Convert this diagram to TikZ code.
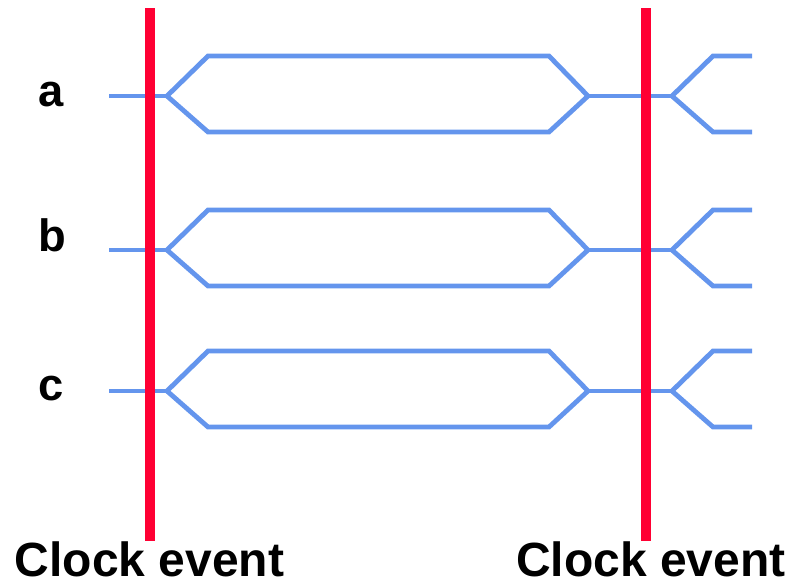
\documentclass[tikz,border=0pt]{standalone}
\usepackage{fontspec}
\setmainfont{Liberation Sans}
\usetikzlibrary{positioning}
\definecolor{clk}{RGB}{255,0,51}
\definecolor{bus}{RGB}{100,149,237}

\begin{document}
\begin{tikzpicture}[
  x=0.75pt, y=-0.75pt,
  sig/.style={draw=bus, line width=3.6pt, line join=miter},
  clkline/.style={draw=clk, line width=7.5pt},
  lbl/.style={font=\fontsize{34}{40}\selectfont\bfseries, inner sep=0pt, anchor=base},
  evt/.style={font=\fontsize{36}{42}\selectfont\bfseries, inner sep=0pt, anchor=base},
]
\useasboundingbox (0,0) rectangle (790,582);

% ---- signal names ----
\node[lbl] (la) at (51,106) {a};
\node[lbl] (lb) at (52,251) {b};
\node[lbl] (lc) at (51,400) {c};

% ---- bus signals: stub, valid window, next transition ----
\foreach \y in {96,250,391} {
  \draw[sig] (109,\y) -- (167,\y);
  \draw[sig] (167,\y) -- (208,\y-40) -- (549,\y-40) -- (588,\y)
    -- (549,\y+36) -- (208,\y+36) -- cycle;
  \draw[sig] (588,\y) -- (672,\y);
  \draw[sig] (752,\y-40) -- (713,\y-40) -- (672,\y) -- (713,\y+36) -- (752,\y+36);
}

% ---- clock events ----
\node[evt] (ce1) at (149.5,576) {Clock event};
\node[evt] (ce2) at (651,576) {Clock event};
\coordinate (t1) at (149.5,8);
\coordinate (t2) at (645.5,8);
\draw[clkline] (t1) -- (t1 |- ce1.north);
\draw[clkline] (t2) -- (t2 |- ce2.north);

\end{tikzpicture}
\end{document}
